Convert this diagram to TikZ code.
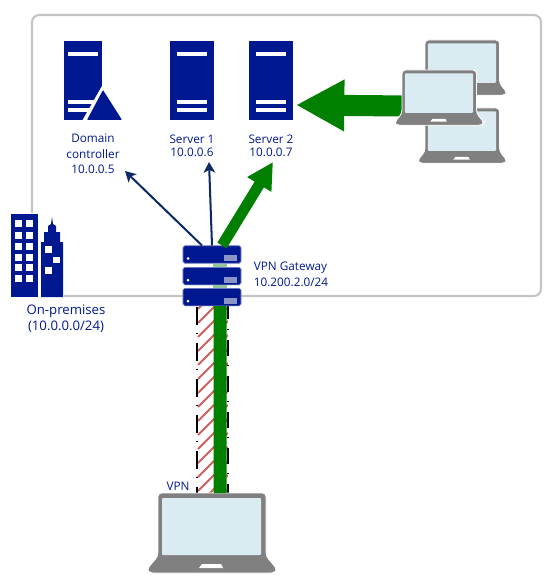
\documentclass[tikz,border=0pt]{standalone}
\usepackage{fontspec}
\setmainfont{Open Sans}
\usetikzlibrary{arrows.meta,positioning}
\definecolor{navy}{HTML}{00188F}
\definecolor{darknavy}{HTML}{0B2A66}
\definecolor{flow}{HTML}{007F00}
\definecolor{flowlight}{HTML}{96C79A}
\definecolor{framegray}{HTML}{C4C4C4}
\definecolor{lapgray}{HTML}{808080}
\definecolor{lapscreen}{HTML}{DAEBF2}
\definecolor{hatchred}{HTML}{D0605C}
\definecolor{ledblue}{HTML}{8B93C7}
\begin{document}
\begin{tikzpicture}[
    x=0.02cm, y=-0.02cm,
    txt/.style={text=navy, inner sep=0pt, align=center, font=\fontsize{6.7}{7.4}\selectfont},
    serverbox/.style={rectangle, fill=navy, inner sep=0pt, minimum width=#1, minimum height=1.58cm,
        rounded corners=0.8pt, sharp corners=south,
        path picture={
            \foreach \yo in {0.53,-0.43,-0.59}
                \fill[white, sharp corners] ([yshift=\yo cm]path picture bounding box.center) ++(-0.3cm,-0.04cm) rectangle ++(0.6cm,0.08cm);
        }},
    rackbox/.style={rectangle, fill=navy, draw=ledblue, line width=0.3pt, inner sep=0pt, minimum width=1.16cm, minimum height=0.35cm,
        rounded corners=1pt,
        path picture={
            \fill[white] ([xshift=-0.48cm,yshift=-0.08cm]path picture bounding box.center) circle (0.03cm);
            \fill[ledblue, sharp corners] ([xshift=0.24cm,yshift=-0.13cm]path picture bounding box.center) rectangle ++(0.26cm,0.12cm);
        }},
    thinarrow/.style={-{Stealth[length=6pt,width=6.5pt,inset=1.5pt]}, line width=1.15pt, draw=darknavy},
    bigarrow/.style={-{Triangle[length=#1,width=#1]}, draw=flow, fill=flow},
    laptop/.pic={
        \fill[lapgray, draw=white, line width=0.5pt, rounded corners=2pt] (0,63) -- (0,0) -- (108,0) -- (108,63) -- (119,76) -- (117,80) -- (-9,80) -- (-11,76) -- cycle;
        \fill[lapscreen, rounded corners=0.5pt] (4,5) rectangle (103,62);
        \fill[white] (44,71) -- (63,71) -- (65,75) -- (41,75) -- cycle;
        \coordinate (-top) at (62,0);
        \coordinate (-left) at (2,36);
    },
    city/.pic={
        \fill[white] (-1,-1) rectangle (53,84);
        \fill[navy] (0,0) rectangle (27,83);
        \foreach \wy in {6,18,29,40,50,61}
            \foreach \wx in {4,15}
                \fill[white] (\wx,\wy) rectangle ++(7,7);
        \fill[navy] (30,83) -- (30,28) -- (33,28) -- (33,18) -- (37,18) -- (37,12) -- (40,10) -- (41,3) -- (42,10) -- (45,12) -- (45,18) -- (49,18) -- (49,28) -- (52,28) -- (52,83) -- cycle;
        \fill[white] (34,32) rectangle ++(7,7);
        \fill[white] (42,43) rectangle ++(7,6);
        \fill[white] (34,53) rectangle ++(7,7);
    }
]
    \useasboundingbox (0,0) rectangle (555,587);

    % Site frame
    \node[rectangle, draw=framegray, line width=1.2pt, rounded corners=4pt, inner sep=0pt, minimum width=10.18cm, minimum height=5.62cm] (site) at (286.5,155.5) {};
    \pic (city) at (11,214) {city};

    % Servers
    \node[serverbox=0.76cm] (dc) at (83,80.5) {};
    \node[serverbox=0.88cm] (srvone) at (192,80.5) {};
    \node[serverbox=0.88cm] (srvtwo) at (271,80.5) {};
    \fill[white] (102.5,85) -- (82,121) -- (124,121) -- cycle;
    \fill[navy, rounded corners=0.5pt] (103,90) -- (87,120) -- (122,120) -- cycle;

    % Labels
    \node[txt] (dclabel) at (93,154) {Domain\\[1.4pt]controller\\[1.4pt]10.0.0.5};
    \node[txt] (srvonelabel) at (192,146) {Server 1\\10.0.0.6};
    \node[txt] (srvtwolabel) at (271,146) {Server 2\\10.0.0.7};
    \node[txt, align=left, font=\fontsize{6.7}{9}\selectfont] (gatelabel) at (291,274) {VPN Gateway\\10.200.2.0/24};
    \node[txt, font=\fontsize{7.5}{9}\selectfont] (citylabel) at (66,319) {On-premises\\(10.0.0.0/24)};
    \node[txt] (vpnlabel) at (178,486) {VPN};

    % Arrow ends
    \coordinate (dctip) at (125,171);
    \coordinate (srvonetip) at (209,162);
    \coordinate (srvtwotip) at (273,162);
    \coordinate (srvtwoport) at (296,105);

    % Laptops
    \pic[scale=0.69] (laptop1) at (425,40) {laptop};
    \pic[scale=0.69] (laptop2) at (425,108) {laptop};
    \draw[bigarrow=27.5pt, line width=12pt] (405,106) -- (srvtwoport);
    \pic[scale=0.69] (laptop3) at (402,70) {laptop};

    % Tunnel
    \node[rectangle, inner sep=0pt, minimum width=0.6cm, minimum height=3.78cm] (tunnel) at (212.5,398.5) {};
    \begin{scope}
        \clip (tunnel.north west) rectangle (tunnel.south east);
        \foreach \hy in {309,323,...,519}
            \draw[hatchred, line width=1.1pt] (198,\hy) -- (228,\hy-30);
    \end{scope}
    \draw[black, line width=1pt, dash pattern=on 10pt off 4.5pt on 0.7pt off 5.3pt, dash phase=-2pt] (tunnel.north west) -- (tunnel.south west);
    \draw[black, line width=1pt, dash pattern=on 9pt off 5.5pt on 0.7pt off 5.3pt] (tunnel.north east) -- (tunnel.south east);

    % Gateway
    \node[rackbox] (gateone) at (212,254.5) {};
    \node[rackbox, below=0.07cm of gateone] (gatetwo) {};
    \node[rackbox, below=0.06cm of gatetwo] (gatethree) {};
    \draw[flowlight, line width=8pt] ([xshift=0.16cm]gateone.south) -- ([xshift=0.16cm]gatethree.north);
    \foreach \rack in {gateone,gatetwo,gatethree}
        \node[rackbox] at (\rack) {};

    % Client
    \pic (client) at (158,493) {laptop};

    % Flow arrows
    \draw[thinarrow] ([xshift=-0.2cm]gateone.north) -- (dctip);
    \draw[thinarrow] (gateone.north) -- (srvonetip);
    \draw[bigarrow=15pt, line width=6.2pt] ([xshift=0.2cm]gateone.north) -- (srvtwotip);
    \draw[flow, line width=7.4pt] ([xshift=0.16cm]gatethree.south) -- (client-top);
\end{tikzpicture}
\end{document}
